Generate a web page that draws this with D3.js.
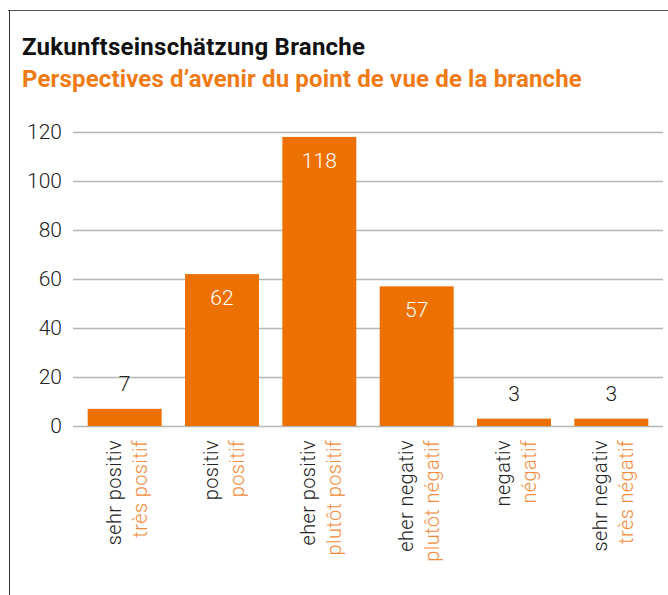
<!DOCTYPE html>
<html>
<head>
<meta charset="utf-8">
<script src="https://cdn.jsdelivr.net/npm/d3@7"></script>
<style>
  body { margin: 0; background: #fff; }
  svg { display: block; }
</style>
</head>
<body>
<script>
// data
var labelsDe = ["sehr positiv", "positiv", "eher positiv", "eher negativ", "negativ", "sehr negativ"];
var labelsFr = ["très positif", "positif", "plutôt positif", "plutôt négatif", "négatif", "très négatif"];
var counts = [7, 62, 118, 57, 3, 3];
var yTicks = [0, 20, 40, 60, 80, 100, 120];

var screen = { width: 668, height: 595 };
var orange = "#ED7003";
var orangeLight = "#F28B3A";

var svg = d3.select("body")
            .append("svg")
            .attr("width", screen.width)
            .attr("height", screen.height);

// frame lines
svg.append("line")
   .attr("x1", 8).attr("y1", 10.5).attr("x2", screen.width).attr("y2", 10.5)
   .attr("stroke", "#555").attr("stroke-width", 1);
svg.append("line")
   .attr("x1", 9.5).attr("y1", 10).attr("x2", 9.5).attr("y2", screen.height)
   .attr("stroke", "#333").attr("stroke-width", 1);

// titles
svg.append("text")
   .attr("x", 22).attr("y", 55)
   .attr("font-family", "Roboto")
   .attr("font-weight", 700)
   .attr("font-size", 24)
   .attr("letter-spacing", 0.25)
   .attr("fill", "#111")
   .text("Zukunftseinschätzung Branche");

svg.append("text")
   .attr("x", 22).attr("y", 87)
   .attr("font-family", "Roboto")
   .attr("font-weight", 700)
   .attr("font-size", 24)
   .attr("letter-spacing", 0.15)
   .attr("fill", "#F07A14")
   .text("Perspectives d’avenir du point de vue de la branche");

var xScale = d3.scaleBand()
               .domain(labelsDe)
               .range([76, 660])
               .paddingInner(0.24)
               .paddingOuter(0.12);

var yScale = d3.scaleLinear()
               .domain([0, 120])
               .range([426, 132]);

// grid
var yAxis = d3.axisLeft(yScale)
              .tickValues(yTicks)
              .tickSize(-(663 - 73))
              .tickPadding(11);

var gAxis = svg.append("g")
   .attr("class", "yAxis")
   .attr("transform", "translate(73,0)")
   .call(yAxis);

gAxis.select(".domain").remove();
gAxis.selectAll(".tick line")
     .attr("stroke", "#b5b5b5")
     .attr("stroke-width", 1.3);
gAxis.selectAll(".tick text")
     .attr("font-family", "Roboto")
     .attr("font-weight", 300)
     .attr("font-size", 21)
     .attr("fill", "#222");

// bars
svg.append("g")
   .attr("class", "bars")
   .selectAll("rect")
   .data(counts)
   .enter()
   .append("rect")
   .attr("x", function(d, i) { return xScale(labelsDe[i]); })
   .attr("y", function(d) { return yScale(d); })
   .attr("width", xScale.bandwidth())
   .attr("height", function(d) { return yScale(0) - yScale(d); })
   .attr("fill", orange);

// value labels
svg.append("g")
   .attr("class", "values")
   .selectAll("text")
   .data(counts)
   .enter()
   .append("text")
   .attr("x", function(d, i) { return xScale(labelsDe[i]) + xScale.bandwidth() / 2; })
   .attr("y", function(d) { return d > 20 ? yScale(d) + 31 : yScale(d) - 18; })
   .attr("text-anchor", "middle")
   .attr("font-family", "Roboto")
   .attr("font-weight", 300)
   .attr("font-size", 21)
   .attr("fill", function(d) { return d > 20 ? "#fff" : "#222"; })
   .text(function(d) { return d; });

// category labels (rotated)
var cat = svg.append("g")
   .attr("class", "categories")
   .selectAll("g")
   .data(labelsDe)
   .enter()
   .append("g")
   .attr("transform", function(d) {
     return "translate(" + (xScale(d) + xScale.bandwidth() / 2) + ",440) rotate(-90)";
   });

cat.append("text")
   .attr("x", 0).attr("y", -4)
   .attr("text-anchor", "end")
   .attr("font-family", "Roboto")
   .attr("font-weight", 300)
   .attr("font-size", 20)
   .attr("letter-spacing", 0.4)
   .attr("fill", "#222")
   .text(function(d) { return d; });

cat.append("text")
   .attr("x", 0).attr("y", 22)
   .attr("text-anchor", "end")
   .attr("font-family", "Roboto")
   .attr("font-weight", 300)
   .attr("font-size", 20)
   .attr("letter-spacing", 0.4)
   .attr("fill", orangeLight)
   .text(function(d, i) { return labelsFr[i]; });
</script>
</body>
</html>
